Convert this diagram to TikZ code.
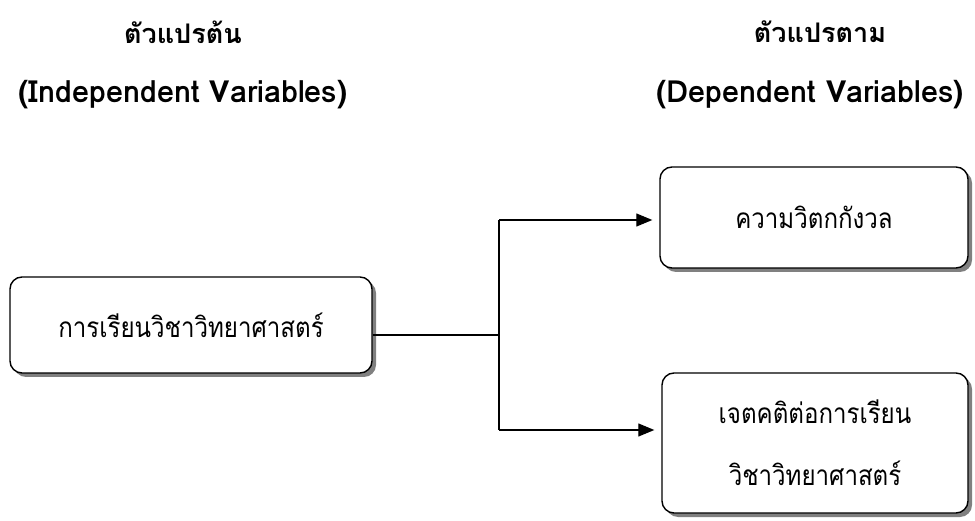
\documentclass[tikz,border=0pt]{standalone}
\usepackage{fontspec}
\setmainfont[Script=Thai]{Loma}
\newfontfamily\boxfont[Script=Thai, FakeStretch=0.86]{Loma}
\usepackage{tikz}
\usetikzlibrary{arrows.meta, positioning, shadows}
\definecolor{shadowgrey}{HTML}{808080}

\tikzset{
  varbox/.style={draw=black, line width=1.4pt, rounded corners=12pt, fill=white,
    drop shadow={shadow xshift=4pt, shadow yshift=-4pt, fill=shadowgrey, opacity=1},
    align=center, inner sep=0pt, font=\boxfont\fontsize{28}{34}\selectfont},
  headtext/.style={font=\fontsize{27}{34}\selectfont\bfseries},
  headlatin/.style={font=\fontsize{30.5}{36}\selectfont\bfseries},
  link/.style={line width=1.2pt},
  linkarrow/.style={link, -{Triangle[length=16pt, width=13pt]}, shorten >=7pt}
}

\begin{document}
\begin{tikzpicture}[x=1pt, y=-1pt]
    \useasboundingbox (0,0) rectangle (975,521);
    % headings
    \node[headtext] (indeptitle) at (183,32) {ตัวแปรต้น};
    \node[headlatin] (indepsub) at (183,95) {(Independent Variables)};
    \node[headtext] (deptitle) at (820,32) {ตัวแปรตาม};
    \node[headlatin] (depsub) at (810,95) {(Dependent Variables)};
    % boxes
    \node[varbox, minimum width=362pt, minimum height=96pt] (study) at (191,325) {การเรียนวิชาวิทยาศาสตร์};
    \node[varbox, minimum width=308pt, minimum height=101pt] (anxiety) at (814,217.5) {ความวิตกกังวล};
    \node[varbox, minimum width=306pt, minimum height=140pt] (attitude) at (815,443) {เจตคติต่อการเรียน\\[28pt]วิชาวิทยาศาสตร์};
    % connectors
    \coordinate (junction) at (499,335);
    \coordinate (upper) at (499,220);
    \coordinate (lower) at (499,430);
    \draw[link] (study.east |- junction) -- (junction);
    \draw[link] (upper) -- (lower);
    \draw[linkarrow] (upper) -- (anxiety.west |- upper);
    \draw[linkarrow] (lower) -- (attitude.west |- lower);
\end{tikzpicture}
\end{document}
